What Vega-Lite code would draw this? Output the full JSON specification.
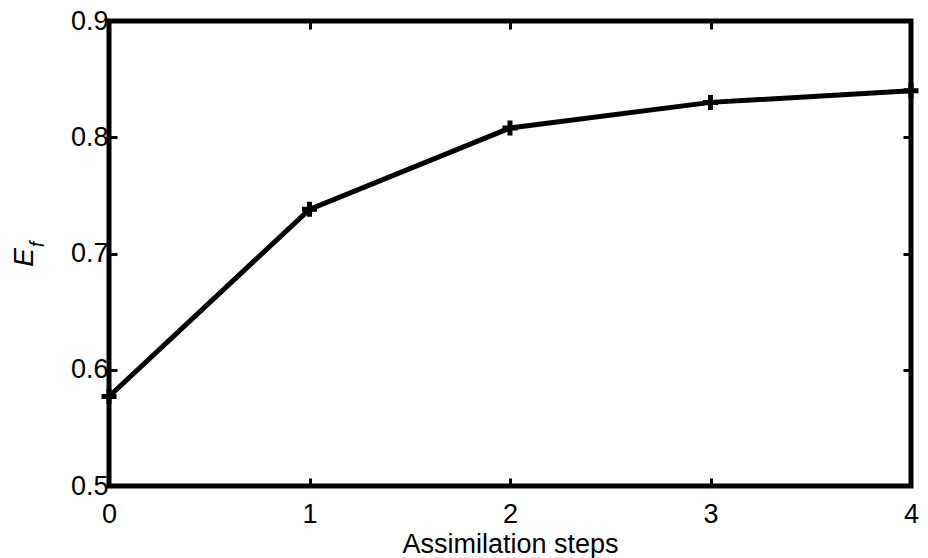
{
  "$schema": "https://vega.github.io/schema/vega-lite/v6.json",
  "width": 802,
  "height": 465,
  "autosize": {"type": "none"},
  "padding": {"left": 109, "top": 21, "right": 17, "bottom": 72},
  "background": "white",
  "config": {
    "view": {"stroke": "black", "strokeWidth": 5},
    "axis": {
      "domain": false,
      "grid": false,
      "tickColor": "black",
      "tickSize": -8,
      "tickWidth": 3,
      "labelFont": "Liberation Sans",
      "labelFontSize": 27,
      "labelColor": "black",
      "labelFlush": false,
      "labelOverlap": false,
      "labelBound": false,
      "titleFont": "Liberation Sans",
      "titleFontSize": 27,
      "titleFontWeight": "normal",
      "titleColor": "black"
    }
  },
  "data": {
    "values": [
      {"step": 0, "E": 0.577},
      {"step": 1, "E": 0.738},
      {"step": 2, "E": 0.808},
      {"step": 3, "E": 0.830},
      {"step": 4, "E": 0.840}
    ]
  },
  "layer": [
    {
      "mark": {"type": "line", "color": "black", "strokeWidth": 5, "clip": false},
      "encoding": {
        "x": {
          "field": "step", "type": "quantitative",
          "scale": {"domain": [0, 4], "nice": false},
          "axis": {"orient": "bottom", "values": [0, 1, 2, 3, 4], "format": "d", "labelPadding": 23,
                   "title": "Assimilation steps", "titleBaseline": "alphabetic", "titleY": 66, "titleX": 401}
        },
        "y": {
          "field": "E", "type": "quantitative",
          "scale": {"domain": [0.5, 0.9], "nice": false, "zero": false},
          "axis": {"orient": "left", "values": [0.5, 0.6, 0.7, 0.8, 0.9], "format": ".1f", "labelPadding": 9,
                   "title": "E", "titleFontStyle": "italic", "titleFontSize": 28, "titleAngle": -90,
                   "titleAlign": "center", "titleBaseline": "alphabetic", "titleX": -77, "titleY": 236}
        }
      }
    },
    {
      "mark": {"type": "point", "shape": "M-1,0H1M0,-1V1", "filled": false, "color": "black", "strokeWidth": 5, "size": 225, "opacity": 1, "clip": false},
      "encoding": {
        "x": {
          "field": "step", "type": "quantitative",
          "axis": {"orient": "top", "values": [0, 1, 2, 3, 4], "labels": false, "title": null}
        },
        "y": {
          "field": "E", "type": "quantitative",
          "axis": {"orient": "right", "values": [0.5, 0.6, 0.7, 0.8, 0.9], "labels": false, "title": null}
        }
      }
    },
    {
      "mark": {"type": "point", "opacity": 0},
      "encoding": {
        "x": {"field": "step", "type": "quantitative", "axis": null},
        "y": {
          "field": "E", "type": "quantitative",
          "axis": {"orient": "left", "labels": false, "ticks": false, "title": "f",
                   "titleFontStyle": "italic", "titleFontSize": 20, "titleAngle": -90,
                   "titleAlign": "center", "titleBaseline": "alphabetic", "titleX": -66, "titleY": 223}
        }
      }
    }
  ],
  "resolve": {"axis": {"x": "independent", "y": "independent"}}
}
